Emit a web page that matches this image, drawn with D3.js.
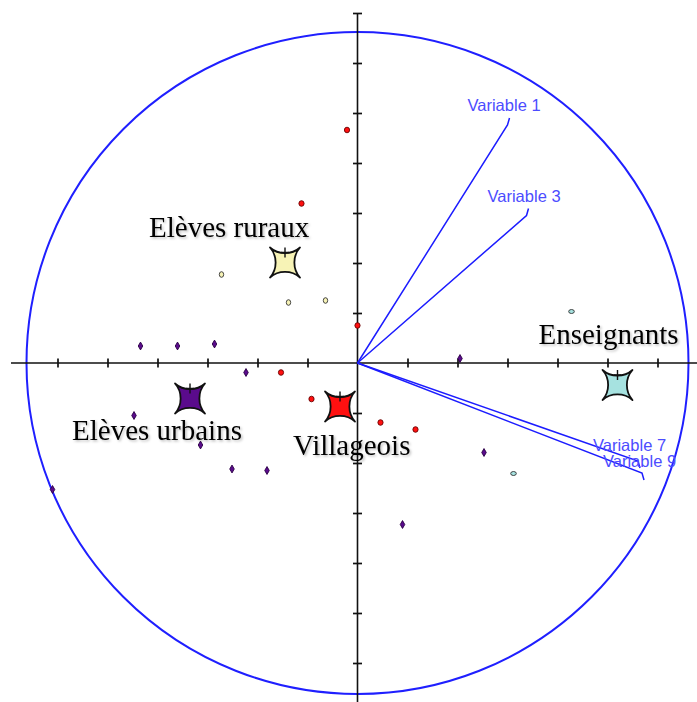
<!DOCTYPE html>
<html>
<head>
<meta charset="utf-8">
<script src="https://cdn.jsdelivr.net/npm/d3@7"></script>
<style>
  html, body { margin: 0; padding: 0; background: #fff; }
  svg { display: block; }
</style>
</head>
<body>
<svg id="chart" width="697" height="702"></svg>
<script>
// groups and their centroids (factor coordinates)
const groups = ["Elèves ruraux", "Elèves urbains", "Villageois", "Enseignants"];
const centroidX = [-1.45, -3.35, -0.35, 5.20];
const centroidY = [2.01, -0.71, -0.87, -0.44];

// individuals
const indX = [-2.72, -1.38, -0.64,
              -1.12, -0.21, 0.00, -1.53, -0.92, 0.46, 1.16,
              -4.34, -3.60, -2.86, -2.23, -4.47, -3.14, -2.51, -1.81, -6.10, 2.05, 2.53, 0.90,
              4.28, 3.12];
const indY = [1.77, 1.21, 1.25,
              3.19, 4.66, 0.75, -0.19, -0.72, -1.19, -1.33,
              0.34, 0.34, 0.38, -0.19, -1.05, -1.64, -2.12, -2.15, -2.53, 0.09, -1.79, -3.23,
              1.03, -2.21];
const indGroup = [0, 0, 0,
                  2, 2, 2, 2, 2, 2, 2,
                  1, 1, 1, 1, 1, 1, 1, 1, 1, 1, 1, 1,
                  3, 3];

// variables (arrows)
const varNames = ["Variable 1", "Variable 3", "Variable 7", "Variable 9"];
const varX = [3.04, 3.42, 5.65, 5.73];
const varY = [4.90, 3.09, -2.10, -2.34];

// axis ticks and circle
const xTicks = [-6, -5, -4, -3, -2, -1, 1, 2, 3, 4, 5, 6];
const yTicks = [-6, -5, -4, -3, -2, -1, 1, 2, 3, 4, 5, 6, 7];
const circleRadius = 6.62;

const colors = ["#f7f3b6", "#5a0b8c", "#ff1010", "#a6e2e0"];

const svg = d3.select("#chart");
const cx = 357.5, cy = 363, unit = 50;

const x = d3.scaleLinear().domain([-7, 7]).range([cx - 7 * unit, cx + 7 * unit]);
const y = d3.scaleLinear().domain([-7, 7]).range([cy + 7 * unit, cy - 7 * unit]);

const defs = svg.append("defs");
defs.append("filter").attr("id", "shadow")
    .attr("x", "-10%").attr("y", "-30%").attr("width", "120%").attr("height", "160%")
  .append("feDropShadow")
    .attr("dx", 1.5).attr("dy", 1.5).attr("stdDeviation", 1.2)
    .attr("flood-color", "#000").attr("flood-opacity", 0.25);

// circle
svg.append("circle")
    .attr("cx", x(0)).attr("cy", y(0))
    .attr("r", x(circleRadius) - x(0))
    .attr("fill", "none")
    .attr("stroke", "#1f1fff")
    .attr("stroke-width", 2);

// axes
svg.append("line")
    .attr("x1", x(-6.93)).attr("x2", x(7))
    .attr("y1", y(0)).attr("y2", y(0))
    .attr("stroke", "#111").attr("stroke-width", 1.6);
svg.append("line")
    .attr("x1", x(0)).attr("x2", x(0))
    .attr("y1", y(7)).attr("y2", y(-7))
    .attr("stroke", "#111").attr("stroke-width", 1.6);

const gx = svg.append("g")
    .attr("transform", "translate(0," + (y(0) - 4.5) + ")")
    .call(d3.axisBottom(x).tickValues(xTicks).tickSize(9).tickSizeOuter(0).tickFormat(""));
gx.select(".domain").remove();
const gy = svg.append("g")
    .attr("transform", "translate(" + (x(0) + 4.5) + ",0)")
    .call(d3.axisLeft(y).tickValues(yTicks).tickSize(9).tickSizeOuter(0).tickFormat(""));
gy.select(".domain").remove();
svg.selectAll(".tick line").attr("stroke", "#111").attr("stroke-width", 1.7);

// variable arrows
const vars = varNames.map((n, i) => ({ name: n, x: varX[i], y: varY[i] }));
const labelOff = [[-42, -7], [-41, -7], [-47, -17], [-41, -13]];
svg.append("g").selectAll("path")
  .data(vars)
  .join("path")
    .attr("d", d => {
      const ex = x(d.x), ey = y(d.y);
      const dir = ey < y(0) ? 1 : -1;
      return "M" + x(0) + "," + y(0) + "L" + (ex - 2) + "," + (ey + dir * 7) + "L" + ex + "," + ey;
    })
    .attr("fill", "none")
    .attr("stroke", "#1c1cff")
    .attr("stroke-width", 1.5);
svg.append("g").selectAll("text")
  .data(vars)
  .join("text")
    .attr("x", (d, i) => x(d.x) + labelOff[i][0])
    .attr("y", (d, i) => y(d.y) + labelOff[i][1])
    .attr("font-family", "Arial, 'Liberation Sans', sans-serif")
    .attr("font-size", 16.5)
    .attr("fill", "#4c4cff")
    .text(d => d.name);

// individuals
const inds = indX.map((v, i) => ({ x: v, y: indY[i], g: indGroup[i] }));
const pts = svg.append("g");
pts.selectAll("path.ind")
  .data(inds.filter(d => d.g === 1))
  .join("path")
    .attr("class", "ind")
    .attr("transform", d => "translate(" + x(d.x) + "," + y(d.y) + ")")
    .attr("d", d3.symbol(d3.symbolDiamond, 18))
    .attr("fill", colors[1])
    .attr("stroke", "#2a0044")
    .attr("stroke-width", 0.9);
pts.selectAll("ellipse")
  .data(inds.filter(d => d.g !== 1))
  .join("ellipse")
    .attr("cx", d => x(d.x))
    .attr("cy", d => y(d.y))
    .attr("rx", d => d.g === 2 ? 2.6 : d.g === 0 ? 2.2 : 2.8)
    .attr("ry", d => d.g === 2 ? 2.8 : d.g === 0 ? 2.8 : 2.0)
    .attr("fill", d => colors[d.g])
    .attr("stroke", d => d.g === 2 ? "#6a0000" : "#333")
    .attr("stroke-width", 0.9);

// group centroids as spiky four-point stars
function star(s) {
  const a = s * 0.45, b = s * 0.5;
  return "M" + (-s) + "," + (-s) +
    "C" + (-a) + "," + (-b) + " " + a + "," + (-b) + " " + s + "," + (-s) +
    "C" + b + "," + (-a) + " " + b + "," + a + " " + s + "," + s +
    "C" + a + "," + b + " " + (-a) + "," + b + " " + (-s) + "," + s +
    "C" + (-b) + "," + a + " " + (-b) + "," + (-a) + " " + (-s) + "," + (-s) + "Z";
}
const cents = groups.map((g, i) => ({ name: g, x: centroidX[i], y: centroidY[i], i: i }));
const cg = svg.append("g").selectAll("g")
  .data(cents)
  .join("g")
    .attr("transform", d => "translate(" + x(d.x) + "," + y(d.y) + ")");
cg.append("path")
    .attr("d", star(15))
    .attr("fill", d => colors[d.i])
    .attr("stroke", "#111")
    .attr("stroke-width", 1.8)
    .attr("stroke-linejoin", "round");
cg.append("path")
    .attr("d", "M-4,-10H4M0,-15V-5")
    .attr("stroke", "#111")
    .attr("stroke-width", 1.4);

// group labels
const nameOff = [[-136, -26], [-118, 41], [-47, 48], [-79, -41]];
svg.append("g").selectAll("text")
  .data(cents)
  .join("text")
    .attr("x", d => x(d.x) + nameOff[d.i][0])
    .attr("y", d => y(d.y) + nameOff[d.i][1])
    .attr("font-family", "'Liberation Serif', 'Times New Roman', serif")
    .attr("font-size", 29)
    .attr("fill", "#000")
    .attr("filter", "url(#shadow)")
    .text(d => d.name);
</script>
</body>
</html>
